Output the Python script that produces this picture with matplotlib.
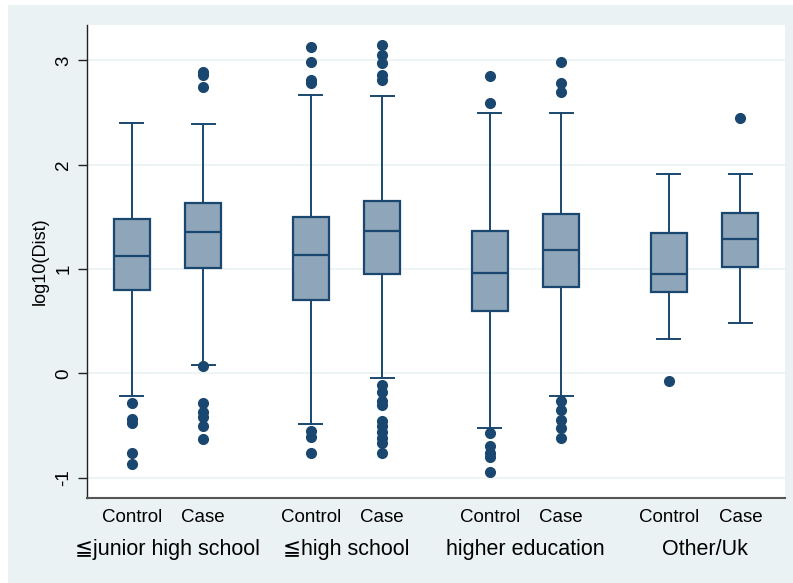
import matplotlib
matplotlib.use("Agg")
import matplotlib.pyplot as plt
from matplotlib.patches import Rectangle

plt.rcParams['font.family'] = ['Liberation Sans', 'DejaVu Sans']

groups = ["≦junior high school", "≦high school", "higher education", "Other/Uk"]
subgroups = ["Control", "Case"]

# box statistics per group: (Control, Case)
whislo = [[-0.214, 0.080], [-0.489, -0.042], [-0.521, -0.214], [0.329, 0.479]]
q1 = [[0.796, 1.010], [0.703, 0.952], [0.600, 0.827], [0.782, 1.019]]
med = [[1.122, 1.358], [1.134, 1.364], [0.965, 1.185], [0.955, 1.288]]
q3 = [[1.476, 1.636], [1.502, 1.652], [1.364, 1.530], [1.342, 1.537]]
whishi = [[2.403, 2.393], [2.665, 2.662], [2.499, 2.493], [1.911, 1.908]]
outliers = [
    [[-0.288, -0.441, -0.480, -0.767, -0.870],
     [2.892, 2.860, 2.742, 0.073, -0.288, -0.368, -0.422, -0.502, -0.630]],
    [[3.131, 2.982, 2.812, 2.780, -0.553, -0.614, -0.767],
     [3.148, 3.052, 2.972, 2.860, 2.812, -0.112, -0.176, -0.270, -0.300,
      -0.455, -0.510, -0.560, -0.623, -0.671, -0.767]],
    [[2.853, 2.589, -0.575, -0.697, -0.761, -0.800, -0.949],
     [2.982, 2.780, 2.700, -0.262, -0.352, -0.448, -0.521, -0.620]],
    [[-0.071], [2.451]],
]

navy = "#1a476f"
fill = "#8fa5b9"
bg = "#eaf2f3"

W, H = 793, 583
fig = plt.figure(figsize=(W / 100, H / 100), dpi=100, facecolor="white")
fig.patches.append(Rectangle((8 / W, 0), 1 - 8 / W, 1 - 5 / H, transform=fig.transFigure,
                             facecolor=bg, edgecolor='none', zorder=-10))
ax = fig.add_axes([87 / W, 1 - 498 / H, (785 - 87) / W, (498 - 25) / H])
ax.set_facecolor("white")

stats = []
positions = []
for g in range(len(groups)):
    for s in range(2):
        stats.append(dict(whislo=whislo[g][s], q1=q1[g][s], med=med[g][s],
                          q3=q3[g][s], whishi=whishi[g][s], fliers=outliers[g][s]))
        positions.append(g * 2.5 + s)

ax.bxp(stats, positions=positions, widths=0.5, patch_artist=True,
       showfliers=True,
       boxprops=dict(facecolor=fill, edgecolor=navy, linewidth=1.6),
       medianprops=dict(color=navy, linewidth=1.6),
       whiskerprops=dict(color=navy, linewidth=1.4),
       capprops=dict(color=navy, linewidth=1.4),
       capwidths=0.32,
       flierprops=dict(marker='o', markerfacecolor=navy, markeredgecolor=navy,
                       markersize=7, linestyle='none'),
       zorder=3)

ax.set_xlim(-0.624, 9.124)
ax.set_ylim(-1.196, 3.339)
ax.set_yticks([-1, 0, 1, 2, 3])
ax.set_yticklabels(["-1", "0", "1", "2", "3"], rotation=90, va='center', fontsize=13.5)
ax.tick_params(axis='y', length=6.5, width=1, color='#222222', pad=4)
ax.set_xticks([])
ax.grid(axis='y', color=bg, linewidth=1.2, zorder=0)
ax.set_axisbelow(True)
for sp in ['top', 'right']:
    ax.spines[sp].set_visible(False)
ax.spines['left'].set_color('#222222')
ax.spines['left'].set_linewidth(1.0)
ax.spines['bottom'].set_color('#555555')
ax.spines['bottom'].set_linewidth(1.5)

ax.set_ylabel("log10(Dist)", fontsize=13)
ax.yaxis.set_label_coords((49 - 87) / (785 - 87), 0.5)

for g, name in enumerate(groups):
    for s, sub in enumerate(subgroups):
        ax.text(g * 2.5 + s, -(521.7 - 498) / (498 - 25), sub,
                transform=ax.get_xaxis_transform(),
                ha='center', va='baseline', fontsize=13.5)
    ax.text(g * 2.5 + 0.5, -(555 - 498) / (498 - 25), name,
            transform=ax.get_xaxis_transform(),
            ha='center', va='baseline', fontsize=15.5,
            family=['Liberation Sans', 'DejaVu Sans'])

fig.savefig("out.png", dpi=100, facecolor="white")
